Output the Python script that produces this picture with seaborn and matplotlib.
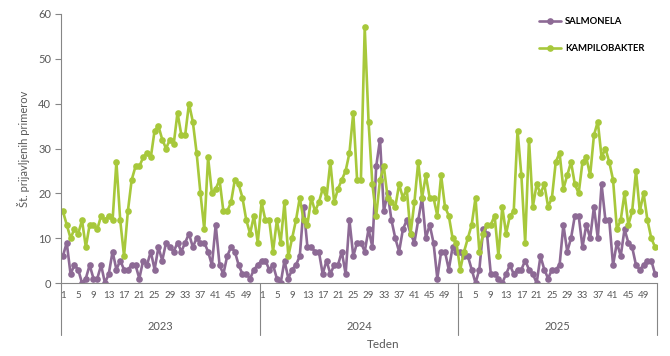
import pandas as pd
import matplotlib
matplotlib.use("Agg")
import matplotlib.pyplot as plt
import matplotlib.transforms as mtransforms
from matplotlib.lines import Line2D
import seaborn as sns

# Weekly reported cases, 52 weeks per year
years = ["2023", "2024", "2025"]
week_ticks = [1, 5, 9, 13, 17, 21, 25, 29, 33, 37, 41, 45, 49]

salmonela_2023 = [6, 9, 2, 4, 3, 0, 1, 4, 1, 1, 4, 0, 2, 7, 3, 5, 3, 3, 4, 4,
                  1, 5, 4, 7, 3, 8, 5, 9, 8, 7, 9, 7, 9, 11, 8, 10, 9, 9, 7, 4,
                  13, 4, 2, 6, 8, 7, 4, 2, 2, 1, 3, 4]
salmonela_2024 = [5, 5, 3, 4, 1, 0, 5, 1, 3, 4, 6, 17, 8, 8, 7, 7, 2, 5, 2, 4,
                  4, 7, 2, 14, 6, 9, 9, 7, 12, 8, 26, 32, 16, 20, 14, 10, 7, 12, 14, 11,
                  9, 14, 19, 10, 13, 9, 1, 7, 7, 3, 8, 7]
salmonela_2025 = [7, 6, 6, 3, 0, 3, 12, 11, 2, 2, 1, 0, 2, 4, 2, 3, 3, 5, 3, 2,
                  0, 6, 3, 1, 3, 3, 4, 13, 7, 10, 15, 15, 8, 13, 10, 17, 10, 22, 14, 14,
                  4, 9, 6, 12, 9, 8, 4, 3, 4, 5, 5, 2]

kampilobakter_2023 = [16, 13, 10, 12, 11, 14, 8, 13, 13, 12, 15, 14, 15, 14, 27, 14, 6, 16, 23, 26,
                      26, 28, 29, 28, 34, 35, 32, 30, 32, 31, 38, 33, 33, 40, 36, 29, 20, 12, 28, 20,
                      21, 23, 16, 16, 18, 23, 22, 19, 14, 11, 15, 9]
kampilobakter_2024 = [18, 14, 14, 7, 14, 9, 18, 6, 10, 14, 19, 14, 13, 19, 16, 18, 21, 19, 27, 18,
                      21, 23, 25, 29, 38, 23, 23, 57, 36, 22, 15, 23, 26, 19, 18, 17, 22, 19, 21, 11,
                      18, 27, 19, 24, 19, 19, 15, 24, 17, 15, 10, 9]
kampilobakter_2025 = [3, 7, 10, 13, 19, 7, 11, 13, 13, 15, 6, 17, 11, 15, 16, 34, 24, 9, 32, 17,
                      22, 20, 22, 17, 19, 27, 29, 21, 24, 27, 22, 20, 27, 28, 24, 33, 36, 28, 30, 27,
                      23, 12, 14, 20, 13, 16, 25, 16, 20, 14, 10, 8]

salmonela = salmonela_2023 + salmonela_2024 + salmonela_2025
kampilobakter = kampilobakter_2023 + kampilobakter_2024 + kampilobakter_2025
n_weeks = 52

purple = "#8D6A95"
green = "#A7C83B"
grey = "#868686"
text_grey = "#595959"

df = pd.concat([
    pd.DataFrame({"pos": range(len(salmonela)), "value": salmonela, "series": "SALMONELA"}),
    pd.DataFrame({"pos": range(len(kampilobakter)), "value": kampilobakter, "series": "KAMPILOBAKTER"}),
])

sns.set_theme(style="white")
plt.rcParams['font.family'] = ['Lato', 'DejaVu Sans']

fig, ax = plt.subplots(figsize=(6.7, 3.56), dpi=100)
fig.subplots_adjust(left=61/670, right=657/670, top=1-14/356, bottom=1-283/356)

sns.lineplot(data=df, x="pos", y="value", hue="series",
             palette={"SALMONELA": purple, "KAMPILOBAKTER": green},
             marker="o", markersize=4.8, markeredgewidth=0, linewidth=1.9,
             legend=False, ax=ax)

ax.set_xlim(-0.5, len(salmonela) - 0.5)
ax.set_ylim(0, 60)
ax.set_yticks(range(0, 61, 10))
ax.tick_params(axis="y", left=True, length=4, width=0.8, color=grey,
               labelsize=8, labelcolor=text_grey, pad=3)

# week labels per year
xt, xl = [], []
for yi in range(len(years)):
    for w in week_ticks:
        xt.append(yi * n_weeks + w - 1)
        xl.append(str(w))
ax.set_xticks(xt)
ax.set_xticklabels(xl)
ax.tick_params(axis="x", bottom=False, length=0, labelsize=7, labelcolor=text_grey, pad=6)

for s in ["top", "right"]:
    ax.spines[s].set_visible(False)
for s in ["left", "bottom"]:
    ax.spines[s].set_color(grey)
    ax.spines[s].set_linewidth(0.8)

# year grouping below the week labels
trans = mtransforms.blended_transform_factory(ax.transData, ax.transAxes)
for b in range(len(years) + 1):
    ax.plot([b * n_weeks - 0.5] * 2, [0, -0.195], transform=trans,
            color=grey, lw=0.8, clip_on=False)
for yi, yr in enumerate(years):
    ax.text(yi * n_weeks + n_weeks / 2 - 0.5, -0.163, yr, transform=trans,
            ha="center", va="center", fontsize=8, color=text_grey)

ax.set_xlabel("")
ax.set_ylabel("Št. prijavljenih primerov", fontsize=8, color=text_grey, labelpad=6)
fig.text(383/670, 1-345/356, "Teden", ha="center", va="center", fontsize=8.5, color=text_grey)

handles = [Line2D([], [], color=purple, lw=1.9, marker="o", markersize=4.8, markeredgewidth=0),
           Line2D([], [], color=green, lw=1.9, marker="o", markersize=4.8, markeredgewidth=0)]
leg = ax.legend(handles, ["SALMONELA", "KAMPILOBAKTER"], loc="upper left",
                bbox_to_anchor=(530/670, 1-9/356), bbox_transform=fig.transFigure,
                frameon=False, labelspacing=1.9, handlelength=2.4, handletextpad=0.4,
                prop={"weight": "bold", "size": 6.8})
for t in leg.get_texts():
    t.set_color("black")

plt.savefig("out.png", dpi=100)
